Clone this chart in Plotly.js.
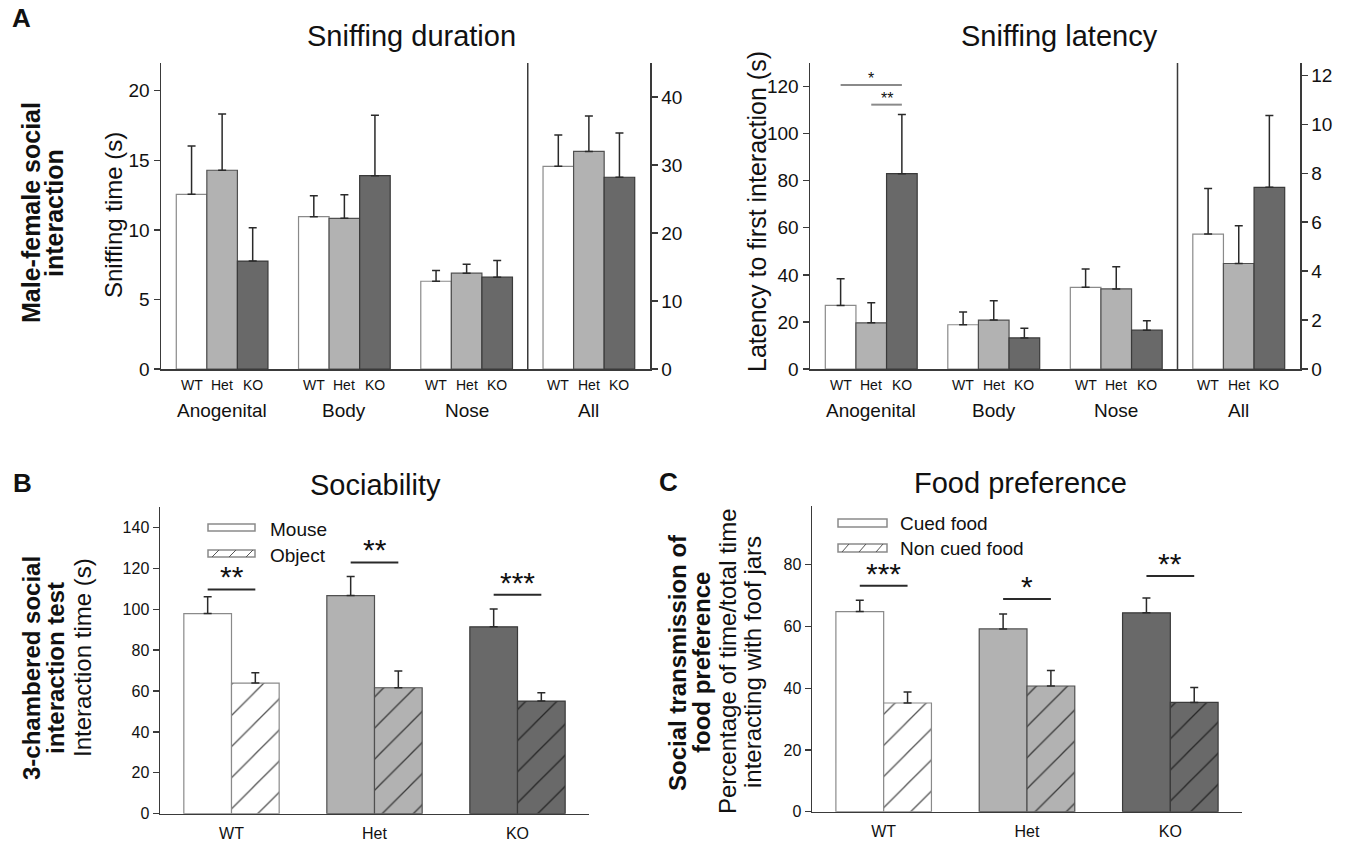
<!DOCTYPE html>
<html><head><meta charset="utf-8">
<script src="https://cdn.plot.ly/plotly-3.0.1.min.js"></script>
<style>html,body{margin:0;padding:0;background:#fff}</style>
</head><body><div id="chart" style="width:1345px;height:842px"></div>
<script>
// ---------- data ----------
const genotypes = ['WT', 'Het', 'KO'];
const regions = ['Anogenital', 'Body', 'Nose'];
const allGroup = ['All'];

// Sniffing duration (s): regions on left axis, "All" on right axis
const durWT = [12.56, 10.95, 6.31];
const durWTErr = [3.48, 1.51, 0.77];
const durHet = [14.29, 10.83, 6.89];
const durHetErr = [4.05, 1.70, 0.65];
const durKO = [7.76, 13.90, 6.60];
const durKOErr = [2.40, 4.35, 1.20];
const durAll = [29.8, 32.0, 28.2];      // WT, Het, KO
const durAllErr = [4.6, 5.2, 6.5];

// Sniffing latency (s): regions on left axis, "All" on right axis
const latWT = [27.0, 18.8, 34.7];
const latWTErr = [11.3, 5.4, 7.8];
const latHet = [19.6, 20.8, 34.0];
const latHetErr = [8.5, 8.2, 9.4];
const latKO = [83.0, 13.2, 16.5];
const latKOErr = [25.1, 4.1, 4.0];
const latAll = [5.51, 4.31, 7.42];
const latAllErr = [1.86, 1.54, 2.94];
const latSigLevels = [120.7, 112.3];
const latSigLabels = ['*', '**'];

// Sociability (s)
const sociMouse = [97.9, 106.7, 91.4];
const sociMouseErr = [8.2, 9.3, 8.7];
const sociObject = [63.9, 61.6, 55.1];
const sociObjectErr = [5.0, 8.2, 4.1];
const sociSigLevels = [109.7, 122.9, 107.1];
const sociSigLabels = ['**', '**', '***'];

// Food preference (%)
const foodCued = [64.8, 59.2, 64.4];
const foodCuedErr = [3.7, 4.8, 4.8];
const foodNonCued = [35.2, 40.7, 35.4];
const foodNonCuedErr = [3.6, 5.0, 4.8];
const foodSigLevels = [73.2, 68.9, 76.3];
const foodSigLabels = ['***', '*', '**'];

// ---------- style ----------
const FONT = 'Liberation Sans, Arial, sans-serif';
const fills = ['#ffffff', '#b2b2b2', '#696969'];
const edges = ['#8a8a8a', '#505050', '#3a3a3a'];
const hatchCol = ['#555555', '#3a3a3a', '#262626'];
const W = 1345, H = 842;
const px = x => x / W;
const py = y => 1 - y / H;

function errY(arr) {
  return {type: 'data', symmetric: false, array: arr, arrayminus: arr.map(() => 0),
          color: '#2a2a2a', thickness: 1.5, width: 4};
}

const traces = [];
const offsets3 = [-0.375, -0.125, 0.125];

function panelA(xa, ya, ya2, vals, errs, allVals, allErrs) {
  for (let g = 0; g < 3; g++) {
    traces.push({type: 'bar', x: regions, y: vals[g], xaxis: xa, yaxis: ya,
      offset: offsets3[g], width: 0.25, name: genotypes[g], showlegend: false,
      marker: {color: fills[g], line: {color: edges[g], width: 1.2}},
      error_y: errY(errs[g]), hoverinfo: 'x+y'});
    traces.push({type: 'bar', x: allGroup, y: [allVals[g]], xaxis: xa, yaxis: ya2,
      offset: offsets3[g], width: 0.25, name: genotypes[g] + ' all', showlegend: false,
      marker: {color: fills[g], line: {color: edges[g], width: 1.2}},
      error_y: errY([allErrs[g]]), hoverinfo: 'x+y'});
  }
}
panelA('x', 'y', 'y2', [durWT, durHet, durKO], [durWTErr, durHetErr, durKOErr], durAll, durAllErr);
panelA('x2', 'y3', 'y4', [latWT, latHet, latKO], [latWTErr, latHetErr, latKOErr], latAll, latAllErr);

function panelPair(xa, ya, v1, e1, v2, e2, n1, n2) {
  traces.push({type: 'bar', x: genotypes, y: v1, xaxis: xa, yaxis: ya, name: n1,
    offset: -1/3, width: 1/3, showlegend: false,
    marker: {color: fills, line: {color: edges, width: 1.2}}, error_y: errY(e1)});
  // hatched bars: one trace per genotype so every bar keeps its own fill and hatch colour
  genotypes.forEach((gt, g) => {
    traces.push({type: 'bar', x: [gt], y: [v2[g]], xaxis: xa, yaxis: ya, name: n2 + ' ' + gt,
      offset: 0, width: 1/3, showlegend: false,
      marker: {color: fills[g], line: {color: edges[g], width: 1.2},
        pattern: {shape: '/', fillmode: 'replace', bgcolor: fills[g], fgcolor: hatchCol[g],
                  fgopacity: 1, size: 22, solidity: 0.06}},
      error_y: errY([e2[g]])});
  });
}
panelPair('x3', 'y5', sociMouse, sociMouseErr, sociObject, sociObjectErr, 'Mouse', 'Object');
panelPair('x4', 'y6', foodCued, foodCuedErr, foodNonCued, foodNonCuedErr, 'Cued food', 'Non cued food');

// ---------- axes ----------
const lineCol = '#3a3a3a';
function yAx(domain, anchor, range, tickvals, size, extra) {
  return Object.assign({domain: domain, anchor: anchor, range: range, tickvals: tickvals,
    showline: true, linecolor: lineCol, linewidth: 1.5, showgrid: false, zeroline: false,
    ticks: 'outside', ticklen: 6, tickwidth: 1.3, tickcolor: lineCol,
    tickfont: {family: FONT, size: size, color: '#111'}, fixedrange: true}, extra || {});
}
function xAx(domain, anchor, cats, showLabels) {
  return {domain: domain, anchor: anchor, type: 'category', categoryorder: 'array',
    categoryarray: cats, range: [-0.5, cats.length - 0.5],
    showline: true, linecolor: lineCol, linewidth: 1.5, showgrid: false, zeroline: false,
    ticks: '', showticklabels: showLabels, ticklabelstandoff: 5,
    tickfont: {family: FONT, size: 16, color: '#111'}, fixedrange: true};
}
const domAy = [py(369), py(63)];
const layout = {
  width: W, height: H, margin: {l: 0, r: 0, t: 0, b: 0},
  paper_bgcolor: '#fff', plot_bgcolor: 'rgba(0,0,0,0)',
  barmode: 'overlay', showlegend: false, font: {family: FONT, color: '#111'},
  xaxis: xAx([px(161), px(650)], 'y', regions.concat(allGroup), false),
  yaxis: yAx(domAy, 'x', [0, 22], [0, 5, 10, 15, 20], 19),
  yaxis2: yAx(domAy, 'x', [0, 45], [0, 10, 20, 30, 40], 19, {overlaying: 'y', side: 'right'}),
  xaxis2: xAx([px(810), px(1300)], 'y3', regions.concat(allGroup), false),
  yaxis3: yAx(domAy, 'x2', [0, 130], [0, 20, 40, 60, 80, 100, 120], 19),
  yaxis4: yAx(domAy, 'x2', [0, 12.5], [0, 2, 4, 6, 8, 10, 12], 19, {overlaying: 'y3', side: 'right'}),
  xaxis3: xAx([px(160), px(589)], 'y5', genotypes, true),
  yaxis5: yAx([py(813.7), py(507)], 'x3', [0, 150], [0, 20, 40, 60, 80, 100, 120, 140], 16),
  xaxis4: xAx([px(812), px(1242)], 'y6', genotypes, true),
  yaxis6: yAx([py(811.7), py(506)], 'x4', [0, 99], [0, 20, 40, 60, 80], 16),
  shapes: [], annotations: []
};

const ann = layout.annotations, shp = layout.shapes;
function txt(text, x, y, size, opts) {
  ann.push(Object.assign({text: text, x: x, y: y, xref: 'paper', yref: 'paper',
    showarrow: false, xanchor: 'center', yanchor: 'middle',
    font: {family: FONT, size: size, color: '#111'}}, opts || {}));
}

// titles
txt('Sniffing duration', px(412), py(36), 29);
txt('Sniffing latency', px(1059), py(36), 29);
txt('Sociability', px(376), py(485), 29);
txt('Food preference', px(1020), py(483), 29);
// panel letters
txt('<b>A</b>', px(21), py(18), 26);
txt('<b>B</b>', px(22), py(483), 26);
txt('<b>C</b>', px(668), py(482), 26);
// row labels (one annotation per line so the line spacing can follow the original)
const rot = {textangle: -90};
txt('<b>Male-female social</b>', px(31), py(213), 25, rot);
txt('<b>interaction</b>', px(54), py(213), 25, rot);
txt('<b>3-chambered social</b>', px(31), py(668), 24, rot);
txt('<b>interaction test</b>', px(55), py(668), 24, rot);
txt('<b>Social transmission of</b>', px(677), py(663), 24, rot);
txt('<b>food preference</b>', px(701), py(663), 24, rot);
// y-axis titles
txt('Sniffing time (s)', px(113), py(215), 24, rot);
txt('Latency to first interaction (s)', px(757), py(212), 25, rot);
txt('Interaction time (s)', px(82), py(658), 24, rot);
txt('Percentage of time/total time', px(727), py(662), 24, rot);
txt('interacting with foof jars', px(752), py(662), 24, rot);

// x labels for panel A (genotype under each bar, group name below)
const groupsA = regions.concat(allGroup);
['x', 'x2'].forEach(xa => {
  groupsA.forEach((grp, i) => {
    genotypes.forEach((gt, g) => {
      ann.push({text: gt, x: i + offsets3[g] + 0.125, y: py(385), xref: xa, yref: 'paper',
        showarrow: false, xanchor: 'center', yanchor: 'middle',
        font: {family: FONT, size: 14, color: '#111'}});
    });
    ann.push({text: grp, x: i, y: py(410), xref: xa, yref: 'paper', showarrow: false,
      xanchor: 'center', yanchor: 'middle', font: {family: FONT, size: 19, color: '#111'}});
  });
  // separator before "All"
  shp.push({type: 'line', xref: xa, yref: (xa === 'x' ? 'y' : 'y3') + ' domain',
    x0: regions.length - 0.5, x1: regions.length - 0.5, y0: 0, y1: 1,
    line: {color: lineCol, width: 1.5}});
});

// significance in latency (Anogenital group)
const ago = regions.indexOf('Anogenital');
const barCenter = g => ago + offsets3[g] + 0.125;
[[0, 2], [1, 2]].forEach((pair, k) => {
  const x0 = barCenter(pair[0]), x1 = barCenter(pair[1]);
  shp.push({type: 'line', xref: 'x2', yref: 'y3', x0: x0, x1: x1,
    y0: latSigLevels[k], y1: latSigLevels[k], line: {color: '#8a8a8a', width: 2}});
  ann.push({text: latSigLabels[k], x: (x0 + x1) / 2, y: latSigLevels[k], xref: 'x2', yref: 'y3',
    showarrow: false, xanchor: 'center', yanchor: 'bottom', yshift: -4,
    font: {family: FONT, size: 16, color: '#111'}});
});

// significance in B and C
function sigPair(xa, ya, levels, labels) {
  genotypes.forEach((gt, i) => {
    shp.push({type: 'line', xref: xa, yref: ya, x0: i - 1/6, x1: i + 1/6,
      y0: levels[i], y1: levels[i], line: {color: '#2a2a2a', width: 2}});
    ann.push({text: labels[i], x: i, y: levels[i], xref: xa, yref: ya, showarrow: false,
      xanchor: 'center', yanchor: 'bottom', yshift: -6,
      font: {family: FONT, size: 30, color: '#111'}});
  });
}
sigPair('x3', 'y5', sociSigLevels, sociSigLabels);
sigPair('x4', 'y6', foodSigLevels, foodSigLabels);

// custom legends (wide boxes like the original)
function legendBox(x0, x1, y0, y1, hatched) {
  shp.push({type: 'rect', xref: 'paper', yref: 'paper', x0: px(x0), x1: px(x1),
    y0: py(y1), y1: py(y0), fillcolor: '#fff', line: {color: '#8a8a8a', width: 1.5}});
  if (hatched) {
    for (let xs = x0 + 4; xs < x1 - 6; xs += 17) {
      shp.push({type: 'line', xref: 'paper', yref: 'paper', x0: px(xs), x1: px(xs + 7),
        y0: py(y1), y1: py(y0), line: {color: '#555', width: 1}});
    }
  }
}
legendBox(208, 255, 524, 531, false);
legendBox(208, 255, 550, 557, true);
txt('Mouse', px(268), py(529), 19, {xanchor: 'left'});
txt('Object', px(268), py(555), 19, {xanchor: 'left'});
legendBox(838, 887, 519, 527, false);
legendBox(838, 887, 544, 552, true);
txt('Cued food', px(898), py(523), 19, {xanchor: 'left'});
txt('Non cued food', px(898), py(548), 19, {xanchor: 'left'});

Plotly.newPlot('chart', traces, layout, {staticPlot: true, displayModeBar: false});
</script></body></html>
